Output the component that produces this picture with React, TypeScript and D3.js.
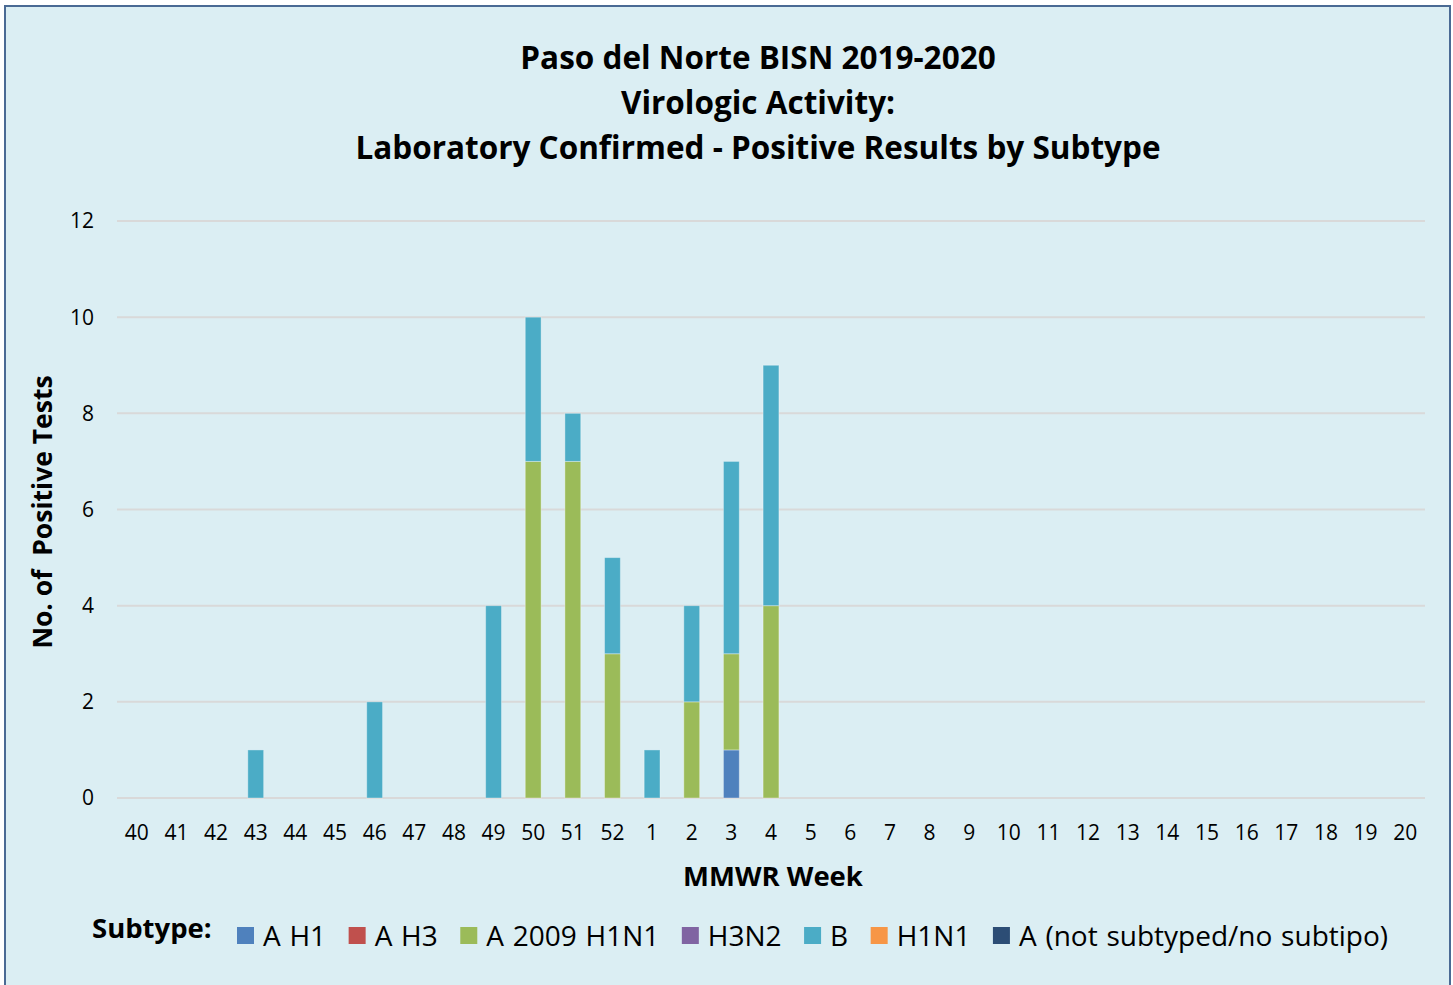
import React, { useEffect, useRef } from "react";
import * as d3 from "d3";

const weeks = ["40","41","42","43","44","45","46","47","48","49","50","51","52","1","2","3","4","5","6","7","8","9","10","11","12","13","14","15","16","17","18","19","20"];
const seriesNames = ["A H1","A H3","A 2009 H1N1","H3N2","B","H1N1","A (not subtyped/no subtipo)"];
const seriesColors = ["#4F81BD","#C0504D","#9BBB59","#8064A2","#4BACC6","#F79646","#2C4D75"];
const aH1 =    [0,0,0,0,0,0,0,0,0,0,0,0,0,0,0,1,0,0,0,0,0,0,0,0,0,0,0,0,0,0,0,0,0];
const aH3 =    [0,0,0,0,0,0,0,0,0,0,0,0,0,0,0,0,0,0,0,0,0,0,0,0,0,0,0,0,0,0,0,0,0];
const a2009 =  [0,0,0,0,0,0,0,0,0,0,7,7,3,0,2,2,4,0,0,0,0,0,0,0,0,0,0,0,0,0,0,0,0];
const h3n2 =   [0,0,0,0,0,0,0,0,0,0,0,0,0,0,0,0,0,0,0,0,0,0,0,0,0,0,0,0,0,0,0,0,0];
const bVals =  [0,0,0,1,0,0,2,0,0,4,3,1,2,1,2,4,5,0,0,0,0,0,0,0,0,0,0,0,0,0,0,0,0];
const h1n1 =   [0,0,0,0,0,0,0,0,0,0,0,0,0,0,0,0,0,0,0,0,0,0,0,0,0,0,0,0,0,0,0,0,0];
const aNot =   [0,0,0,0,0,0,0,0,0,0,0,0,0,0,0,0,0,0,0,0,0,0,0,0,0,0,0,0,0,0,0,0,0];
const yTicks = [0,2,4,6,8,10,12];
const titleLines = ["Paso del Norte BISN 2019-2020","Virologic Activity:","Laboratory Confirmed - Positive Results by Subtype"];

const W = 1453, H = 985;
const FONT = "'Open Sans', 'Noto Sans', sans-serif";

export default function App() {
  const ref = useRef<SVGSVGElement>(null);
  useEffect(() => {
    const svg = d3.select(ref.current);
    svg.selectAll("*").remove();
    svg.append("rect").attr("x", 0).attr("y", 0).attr("width", W).attr("height", H).attr("fill", "#ffffff");
    svg.append("rect").attr("x", 5).attr("y", 6).attr("width", 1445).attr("height", 990)
      .attr("fill", "#DBEEF3").attr("stroke", "#4A6A94").attr("stroke-width", 2);

    const plot = { left: 117, right: 1425, top: 221, bottom: 798 };
    const x = d3.scaleBand().domain(weeks).range([plot.left, plot.right]).paddingInner(0.6).paddingOuter(0.3);
    const y = d3.scaleLinear().domain([0, 12]).range([plot.bottom, plot.top]);

    // gridlines
    svg.append("g").selectAll("line").data(yTicks).join("line")
      .attr("x1", plot.left).attr("x2", plot.right)
      .attr("y1", d => y(d)).attr("y2", d => y(d))
      .attr("stroke", "#D9D9D9").attr("stroke-width", 2);

    // y tick labels
    svg.append("g").selectAll("text").data(yTicks).join("text")
      .attr("x", 94).attr("y", d => y(d)).attr("dy", "0.35em")
      .attr("text-anchor", "end").attr("font-family", FONT).attr("font-size", 21).attr("fill", "#000")
      .text(d => String(d));

    // x tick labels
    svg.append("g").selectAll("text").data(weeks).join("text")
      .attr("x", d => (x(d) as number) + x.bandwidth() / 2).attr("y", 833).attr("dy", "0.35em")
      .attr("text-anchor", "middle").attr("font-family", FONT).attr("font-size", 21).attr("fill", "#000")
      .text(d => d);

    // stacked bars
    const table = weeks.map((w, i) => ({
      week: w,
      s0: aH1[i], s1: aH3[i], s2: a2009[i], s3: h3n2[i], s4: bVals[i], s5: h1n1[i], s6: aNot[i],
    }));
    const keys = ["s0","s1","s2","s3","s4","s5","s6"];
    const stack = d3.stack<any>().keys(keys)(table);
    const g = svg.append("g");
    stack.forEach((layer, li) => {
      g.append("g").selectAll("rect").data(layer.filter(d => d[1] - d[0] > 0)).join("rect")
        .attr("x", d => x(d.data.week) as number)
        .attr("width", x.bandwidth())
        .attr("y", d => y(d[1]))
        .attr("height", d => y(d[0]) - y(d[1]))
        .attr("fill", seriesColors[li])
        .attr("stroke", "rgba(255,255,255,0.35)").attr("stroke-width", 1);
    });

    // title
    svg.append("g").selectAll("text").data(titleLines).join("text")
      .attr("x", 758).attr("y", (d, i) => 58 + i * 45).attr("dy", "0.35em")
      .attr("text-anchor", "middle").attr("font-family", FONT).attr("font-weight", "bold")
      .attr("font-size", 31.5).attr("fill", "#000").text(d => d);

    // axis titles
    svg.append("text").attr("transform", "translate(43,512) rotate(-90)").attr("dy", "0.35em")
      .attr("text-anchor", "middle").attr("font-family", FONT).attr("font-weight", "bold")
      .attr("font-size", 26.5).attr("fill", "#000").attr("xml:space", "preserve")
      .style("white-space", "pre").text("No. of  Positive Tests");
    svg.append("text").attr("x", 773).attr("y", 876).attr("dy", "0.35em")
      .attr("text-anchor", "middle").attr("font-family", FONT).attr("font-weight", "bold")
      .attr("font-size", 27.5).attr("fill", "#000").text("MMWR Week");

    // legend
    const leg = svg.append("g");
    leg.append("text").attr("x", 92).attr("y", 928).attr("dy", "0.35em")
      .attr("font-family", FONT).attr("font-weight", "bold").attr("font-size", 27.5).attr("fill", "#000")
      .text("Subtype:");
    let cx = 237;
    seriesNames.forEach((name, i) => {
      leg.append("rect").attr("x", cx).attr("y", 927).attr("width", 17).attr("height", 17).attr("fill", seriesColors[i]);
      const t = leg.append("text").attr("x", cx + 26).attr("y", 936).attr("dy", "0.35em")
        .attr("font-family", FONT).attr("font-size", 28).attr("word-spacing", 1.5).attr("fill", "#000").text(name);
      const w = (t.node() as SVGTextElement).getComputedTextLength();
      cx = cx + 26 + w + 22.5;
    });
  }, []);
  return (
    <svg ref={ref} width={W} height={H} style={{ position: "absolute", left: 0, top: 0, display: "block" }} />
  );
}
